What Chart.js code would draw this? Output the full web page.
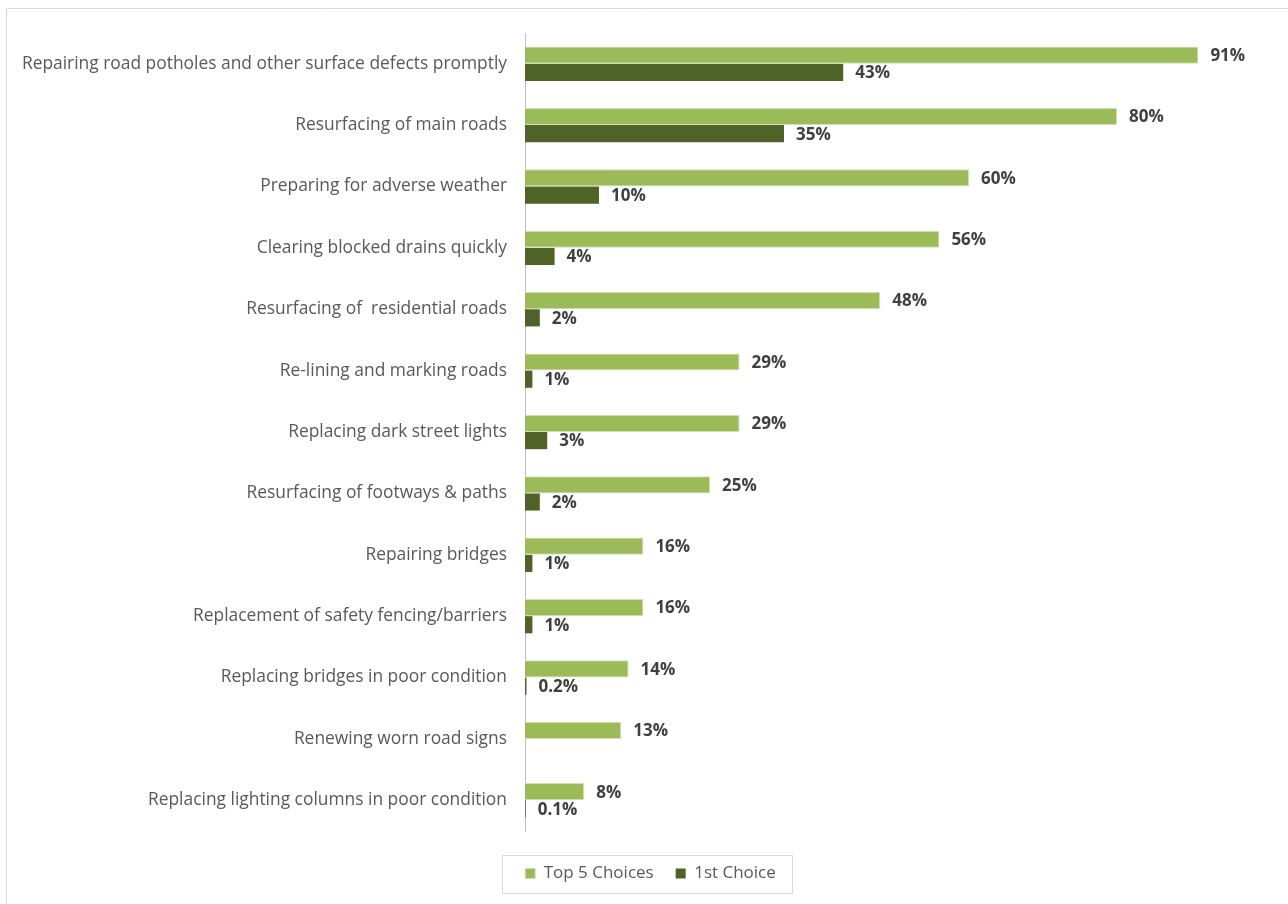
<!DOCTYPE html>
<html>
<head>
<meta charset="utf-8">
<script src="https://cdn.jsdelivr.net/npm/chart.js@4"></script>
<style>
  html, body { margin: 0; padding: 0; background: #fff; }
  #wrap { width: 1288px; height: 904px; position: relative; }
</style>
</head>
<body>
<div id="wrap"><canvas id="chart"></canvas></div>
<script>
// categories (top to bottom)
const categories = [
  "Repairing road potholes and other surface defects promptly",
  "Resurfacing of main roads",
  "Preparing for adverse weather",
  "Clearing blocked drains quickly",
  "Resurfacing of  residential roads",
  "Re-lining and marking roads",
  "Replacing dark street lights",
  "Resurfacing of footways & paths",
  "Repairing bridges",
  "Replacement of safety fencing/barriers",
  "Replacing bridges in poor condition",
  "Renewing worn road signs",
  "Replacing lighting columns in poor condition"
];
const top5Values = [91, 80, 60, 56, 48, 29, 29, 25, 16, 16, 14, 13, 8];
const firstValues = [43, 35, 10, 4, 2, 1, 3, 2, 1, 1, 0.2, null, 0.1];
const seriesNames = ["Top 5 Choices", "1st Choice"];

const LIGHT = '#9bbb59', DARK = '#4f6228';
const FONT = "'Open Sans'";

// value labels at bar ends
const valueLabels = {
  id: 'valueLabels',
  afterDatasetsDraw(chart) {
    const ctx = chart.ctx;
    ctx.save();
    ctx.font = 'bold 17px ' + FONT;
    ctx.fillStyle = '#404040';
    ctx.textBaseline = 'middle';
    ctx.textAlign = 'left';
    chart.data.datasets.forEach((ds, di) => {
      chart.getDatasetMeta(di).data.forEach((bar, i) => {
        const v = ds.data[i];
        if (v === null || v === undefined) return;
        ctx.fillText(v + '%', bar.x + 12, bar.y + 1);
      });
    });
    ctx.restore();
  }
};

// outer frame + legend border, legend nudged right
const frame = {
  id: 'frame',
  afterLayout(chart) {
    chart.legend.left += 36;
  },
  beforeDraw(chart) {
    const ctx = chart.ctx;
    ctx.save();
    ctx.strokeStyle = '#d9d9d9';
    ctx.lineWidth = 1;
    ctx.beginPath();
    ctx.moveTo(6.5, 904);
    ctx.lineTo(6.5, 8.5);
    ctx.lineTo(1288, 8.5);
    ctx.stroke();
    ctx.restore();
  },
  afterDraw(chart) {
    const boxes = chart.legend.legendHitBoxes;
    if (!boxes || !boxes.length) return;
    const first = boxes[0], last = boxes[boxes.length - 1];
    const ctx = chart.ctx;
    ctx.save();
    ctx.strokeStyle = '#d9d9d9';
    ctx.lineWidth = 1;
    const l = Math.round(first.left) - 22.5;
    const r = Math.round(last.left + last.width) + 16.5;
    const cy = first.top + first.height / 2;
    ctx.strokeRect(l, Math.round(cy - 19) + 0.5, r - l, 38);
    ctx.restore();
  }
};

new Chart(document.getElementById('chart'), {
  type: 'bar',
  data: {
    labels: categories,
    datasets: [
      { label: seriesNames[0], data: top5Values, backgroundColor: LIGHT, borderColor: '#d3e0b6', borderWidth: 1 },
      { label: seriesNames[1], data: firstValues, backgroundColor: DARK, borderWidth: 0 }
    ]
  },
  options: {
    indexAxis: 'y',
    responsive: true,
    maintainAspectRatio: false,
    animation: false,
    layout: { padding: { top: 33, left: 0, right: 23, bottom: 12 } },
    datasets: { bar: { categoryPercentage: 0.56, barPercentage: 1 } },
    scales: {
      x: {
        min: 0, max: 100,
        display: true,
        grid: { display: false, drawTicks: false },
        border: { display: false },
        ticks: { display: false },
        afterFit(s) { s.height = 12; }
      },
      y: {
        grid: { display: false, drawTicks: false },
        border: { display: true, color: '#bfbfbf', width: 1 },
        ticks: { color: '#595959', font: { family: FONT, size: 17.4 }, padding: 18 },
        afterFit(s) { s.width = 525; }
      }
    },
    plugins: {
      legend: {
        position: 'bottom',
        labels: {
          boxWidth: 10, boxHeight: 10, padding: 22,
          color: '#595959', font: { family: FONT, size: 17 }
        }
      },
      tooltip: { enabled: false }
    }
  },
  plugins: [valueLabels, frame]
});
</script>
</body>
</html>
